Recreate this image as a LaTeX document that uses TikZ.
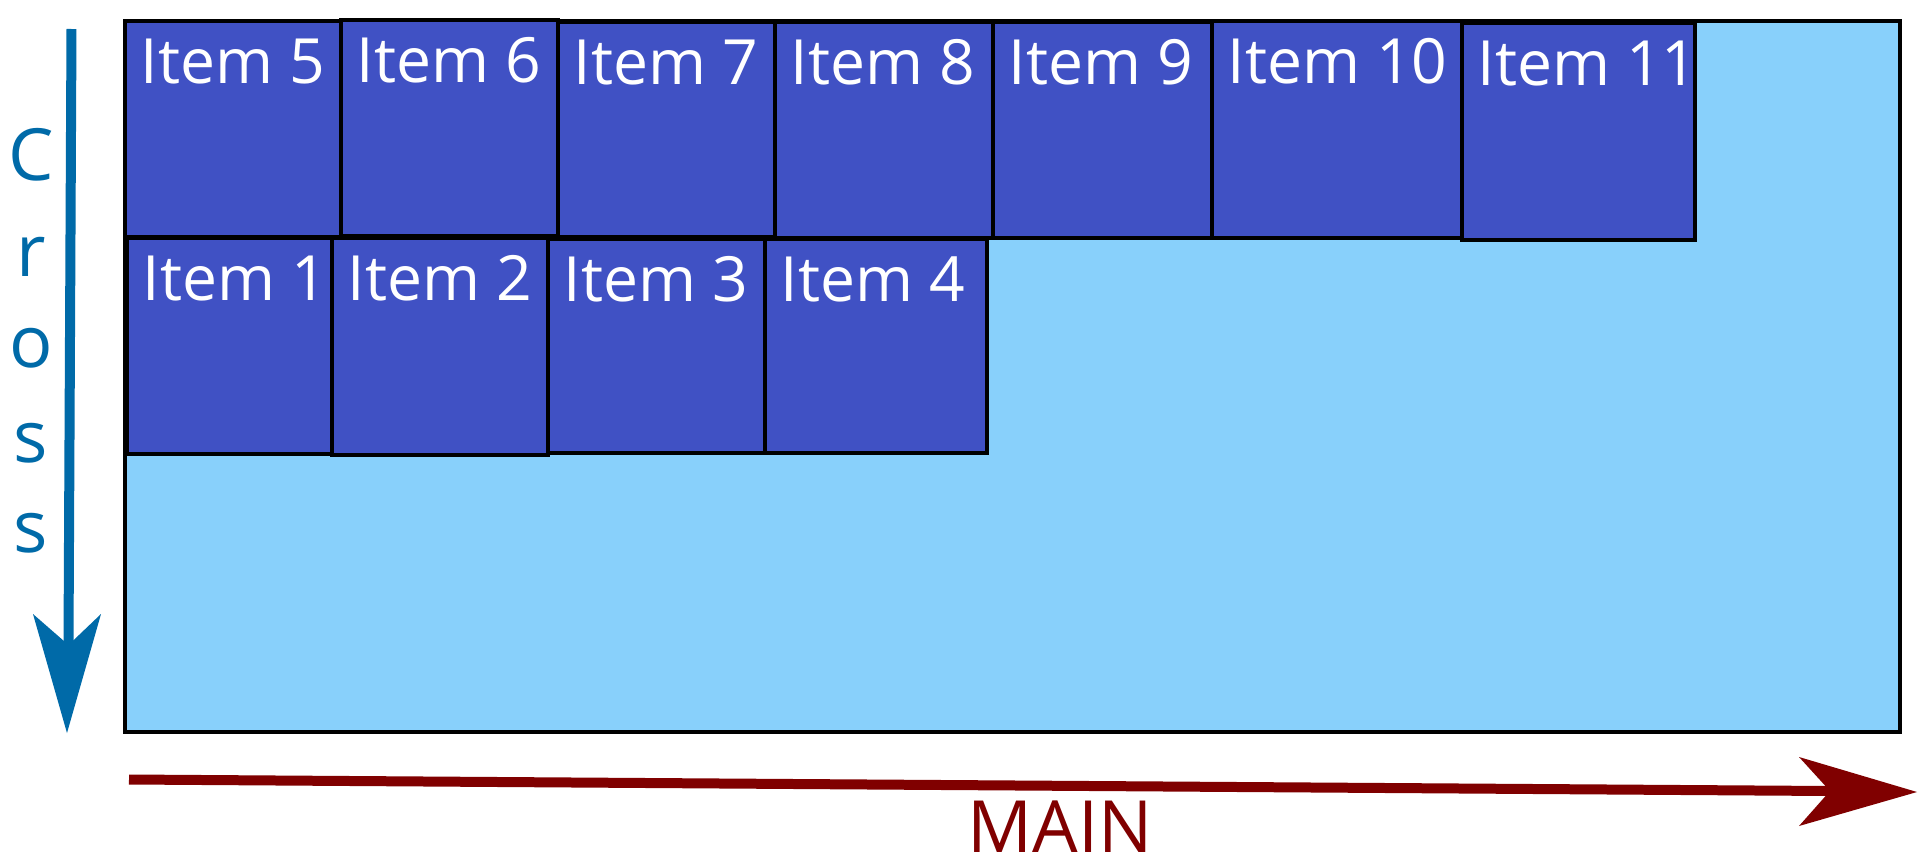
\documentclass[tikz,border=0pt]{standalone}
\usepackage{fontspec}
\setmainfont{Open Sans}
\usetikzlibrary{fit}
\definecolor{bgfill}{HTML}{88D0FB}
\definecolor{itemfill}{HTML}{4051C4}
\definecolor{crossblue}{HTML}{006AA8}
\definecolor{maindark}{HTML}{800000}
\newcommand\drawitem[6]{%
  \node[itembox, fit={(#2,#3) (#4,#5)}] (b#1) {};
  \node[itemtext] (t#1) at ([xshift=0.34cm, yshift=-1.28cm]b#1.north west) {#6};
}
\begin{document}
\begin{tikzpicture}[x=0.02cm, y=-0.02cm,
  frame/.style={draw=black, line width=0.07cm, fill=bgfill, inner sep=0pt},
  itembox/.style={draw=black, line width=0.07cm, fill=itemfill, inner sep=0pt},
  itemtext/.style={text=white, font=\fontsize{35.5}{42}\selectfont, anchor=base west, inner sep=0pt},
  axisletter/.style={text=crossblue, font=\fontsize{41}{50}\selectfont, anchor=base, inner sep=0pt},
  mainlabel/.style={text=maindark, font=\fontsize{41}{50}\selectfont, anchor=base, inner sep=0pt},
  crossshaft/.style={draw=crossblue, line width=0.2cm},
  mainshaft/.style={draw=maindark, line width=0.2cm}]
\useasboundingbox (0,0) rectangle (1920,862);
% container
\node[frame, fit={(125,21) (1900,732)}] (box) {};
% items, top row
\drawitem{5}{125}{21}{341}{237}{Item 5}
\drawitem{6}{341}{20}{558}{236}{Item 6}
\drawitem{7}{558}{22}{775}{237}{Item 7}
\drawitem{8}{775}{22}{993}{238}{Item 8}
\drawitem{9}{993}{22}{1212}{238}{Item 9}
\drawitem{10}{1212}{21}{1462}{238}{Item 10}
\drawitem{11}{1462}{23}{1695}{240}{Item 11}
% items, bottom row
\drawitem{1}{127}{238}{332}{454}{Item 1}
\drawitem{2}{332}{238}{548}{455}{Item 2}
\drawitem{3}{548}{239}{766}{453}{Item 3}
\drawitem{4}{765}{239}{987}{453}{Item 4}
% cross axis
\coordinate (cs) at (71.5,29);
\coordinate (cn) at (68.5,645);
\coordinate (ct) at (67,733);
\coordinate (cl) at (33,614);
\coordinate (cr) at (101,614);
\draw[crossshaft] (cs) -- (cn);
\fill[crossblue] (ct) -- (cl) -- (cn) -- (cr) -- cycle;
\node[axisletter] (c1) at (31,180) {C};
\node[axisletter] (c2) at (31,276) {r};
\node[axisletter] (c3) at (31,367) {o};
\node[axisletter] (c4) at (31,462) {s};
\node[axisletter] (c5) at (31,552) {s};
% main axis
\coordinate (ms) at (129,779.5);
\coordinate (mn) at (1830,791);
\coordinate (mt) at (1917,792);
\coordinate (mu) at (1799,757);
\coordinate (md) at (1799,826);
\draw[mainshaft] (ms) -- (mn);
\fill[maindark] (mt) -- (mu) -- (mn) -- (md) -- cycle;
\node[mainlabel] (mainlbl) at (1060,852) {MAIN};
\end{tikzpicture}
\end{document}
